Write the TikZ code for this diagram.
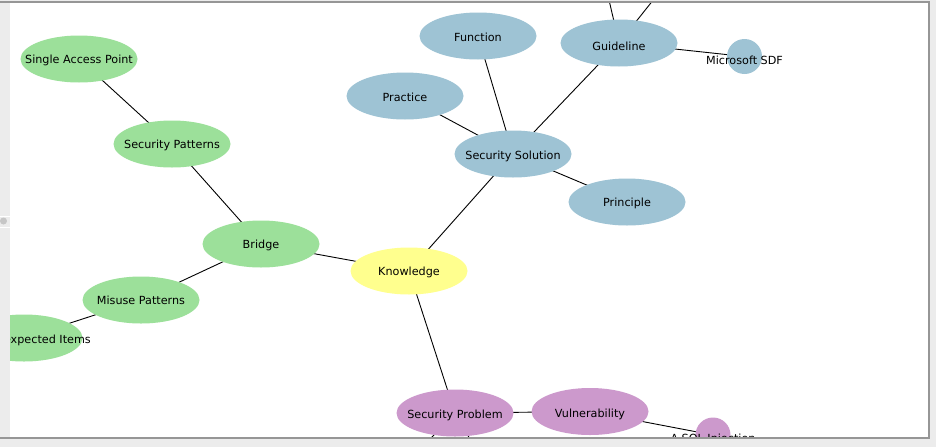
\documentclass[tikz,border=0pt]{standalone}
\usepackage{fontspec}
\setmainfont{DejaVu Sans}
\usetikzlibrary{shapes.geometric}
\pgfdeclarelayer{bg}
\pgfdeclarelayer{edges}
\pgfsetlayers{bg,edges,main}
\definecolor{solblue}{RGB}{158,195,212}
\definecolor{brgreen}{RGB}{156,224,154}
\definecolor{knyellow}{RGB}{255,255,142}
\definecolor{prpurple}{RGB}{204,153,204}
\definecolor{panelgray}{RGB}{236,236,236}
\definecolor{bordergray}{RGB}{150,150,150}
\begin{document}
\begin{tikzpicture}[x=1pt,y=-1pt,
  blob/.style={ellipse, minimum width=117pt, minimum height=47pt, inner sep=0pt},
  dotnode/.style={circle, minimum size=35pt, inner sep=0pt},
  lbl/.style={font=\fontsize{11.2}{13}\selectfont, inner sep=0pt, text=black},
  link/.style={draw=black, line width=0.9pt}]
\useasboundingbox (0,0) rectangle (936,447);
% frame
\begin{pgfonlayer}{bg}
  \fill[panelgray] (0,0) rectangle (936,447);
  \fill[white] (10,3) rectangle (928,437);
  \fill[gray!45] (3.5,221) circle (3.5);
  \draw[white, line width=0.8pt] (0,216.5) -- (10,216.5);
  \draw[white, line width=0.8pt] (0,227.5) -- (10,227.5);
\end{pgfonlayer}
\begin{scope}
\clip (10,3) rectangle (928,437);
% nodes
\node[blob, fill=knyellow] (kn) at (409,271) {};
\node[blob, fill=solblue] (ss) at (513,154) {};
\node[blob, fill=solblue] (fn) at (478,36) {};
\node[blob, fill=solblue] (gl) at (619,43) {};
\node[blob, fill=solblue] (pr) at (405,96) {};
\node[blob, fill=solblue] (pc) at (627,202) {};
\node[dotnode, fill=solblue] (ms) at (744.5,56.5) {};
\node[blob, fill=brgreen] (br) at (261,244) {};
\node[blob, fill=brgreen] (sp) at (172,144) {};
\node[blob, fill=brgreen] (sa) at (79,59) {};
\node[blob, fill=brgreen] (mp) at (141,300) {};
\node[blob, fill=brgreen] (ue) at (24,338) {};
\node[blob, fill=prpurple] (sb) at (455,413) {};
\node[blob, fill=prpurple] (vu) at (590,411.5) {};
\node[dotnode, fill=prpurple] (sq) at (713,435) {};
% labels
\node[lbl] (knl) at (409,272) {Knowledge};
\node[lbl] (ssl) at (513,156) {Security Solution};
\node[lbl] (fnl) at (478,37) {Function};
\node[lbl] (gll) at (619,46) {Guideline};
\node[lbl] (prl) at (405,97) {Practice};
\node[lbl] (pcl) at (627,203) {Principle};
\node[lbl] (msl) at (744.5,60) {Microsoft SDF};
\node[lbl] (brl) at (261,245) {Bridge};
\node[lbl] (spl) at (172,145) {Security Patterns};
\node[lbl] (sal) at (79,60) {Single Access Point};
\node[lbl] (mpl) at (141,300) {Misuse Patterns};
\node[lbl, anchor=east] (uel) at (91,340) {Unexpected Items};
\node[lbl] (sbl) at (455,415) {Security Problem};
\node[lbl] (vul) at (590,414) {Vulnerability};
\node[lbl] (sql) at (713,439.5) {A SQL Injection};
% off-screen ends
\coordinate (gup1) at (609,0);
\coordinate (gup2) at (654,-1);
\coordinate (sdn1) at (410,460);
\coordinate (sdn2) at (482,460);
\end{scope}
\begin{pgfonlayer}{edges}
\begin{scope}
\clip (10,3) rectangle (928,437);
\draw[link] (kn.center) -- (br.center);
\draw[link] (kn.center) -- (ss.center);
\draw[link] (kn.center) -- (sb.center);
\draw[link] (ss.center) -- (pr.center);
\draw[link] (ss.center) -- (fn.center);
\draw[link] (ss.center) -- (gl.center);
\draw[link] (ss.center) -- (pc.center);
\draw[link] (gl.center) -- (ms.center);
\draw[link] (gl.center) -- (gup1);
\draw[link] (gl.center) -- (gup2);
\draw[link] (br.center) -- (sp.center);
\draw[link] (sp.center) -- (sa.center);
\draw[link] (br.center) -- (mp.center);
\draw[link] (mp.center) -- (ue.center);
\draw[link] (sb.center) -- (vu.center);
\draw[link] (vu.center) -- (sq.center);
\draw[link] (sb.center) -- (sdn1);
\draw[link] (sb.center) -- (sdn2);
\end{scope}
\end{pgfonlayer}
% borders
\draw[bordergray, line width=2pt] (0,1.5) -- (930,1.5);
\draw[bordergray, line width=2pt] (929,1.5) -- (929,438);
\draw[bordergray, line width=2pt] (0,438) -- (930,438);
\end{tikzpicture}
\end{document}
